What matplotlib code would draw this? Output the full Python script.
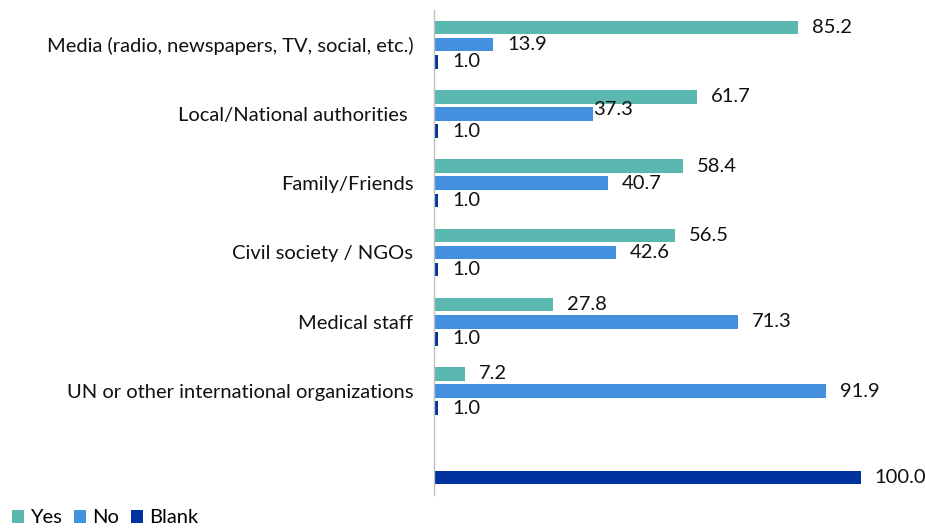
import numpy as np
import matplotlib.pyplot as plt

plt.rcParams['font.family'] = ['Lato', 'DejaVu Sans']

categories = [
    "Media (radio, newspapers, TV, social, etc.)",
    "Local/National authorities ",
    "Family/Friends",
    "Civil society / NGOs",
    "Medical staff",
    "UN or other international organizations",
    "",
]
yes_vals = [85.2, 61.7, 58.4, 56.5, 27.8, 7.2, None]
no_vals = [13.9, 37.3, 40.7, 42.6, 71.3, 91.9, None]
blank_vals = [1.0, 1.0, 1.0, 1.0, 1.0, 1.0, 100.0]

series = [
    ("Yes", yes_vals, "#5BB8B0"),
    ("No", no_vals, "#4490E0"),
    ("Blank", blank_vals, "#0033A0"),
]

# data labels that sit off their usual spot (series, category index) -> offset in points
label_shift = {("No", 1): (0, 3)}

FS = 14.5

fig = plt.figure(figsize=(9.25, 5.28), dpi=100)
ax = fig.add_axes([434 / 925, 33 / 528, 1 - 434 / 925, 485 / 528])

y = np.arange(len(categories))
step = 0.248
height = 0.195

for i, (name, vals, color) in enumerate(series):
    pos = y + (i - 1) * step
    mask = [v is not None for v in vals]
    v = np.array([val if val is not None else 0 for val in vals])
    ax.barh(pos[mask], v[mask], height=height, color=color, label=name)
    for k, (p, val, m) in enumerate(zip(pos, vals, mask)):
        if m:
            dx, dy = label_shift.get((name, k), (10, 0))
            ax.annotate(f"{val:.1f}", (val, p), xytext=(dx, dy),
                        textcoords="offset points", va="center", ha="left",
                        fontsize=FS, color="#111111")

ax.set_xlim(0, 115)
ax.set_ylim(len(categories) - 0.5, -0.5)
ax.set_yticks(y)
ax.set_yticklabels(categories, fontsize=FS, color="#111111")
ax.tick_params(axis="y", length=0, pad=15)
ax.set_xticks([])

for s in ["top", "right", "bottom"]:
    ax.spines[s].set_visible(False)
ax.spines["left"].set_color("#BFBFBF")
ax.spines["left"].set_linewidth(1.0)

fig.legend(loc="lower left", bbox_to_anchor=(0.0, -0.02), ncol=3, frameon=False,
           fontsize=FS, handlelength=0.6, handleheight=0.6, handletextpad=0.3,
           columnspacing=0.6, borderaxespad=0.2)

fig.savefig("out.png", dpi=100)
